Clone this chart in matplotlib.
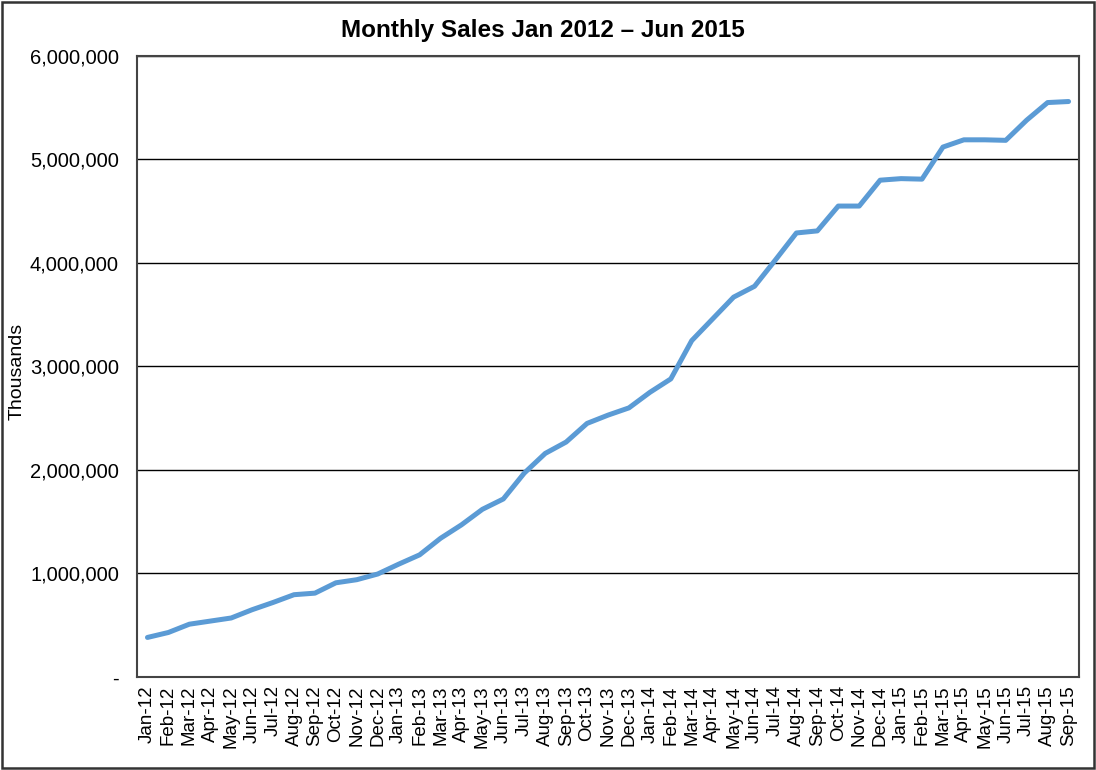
import matplotlib.pyplot as plt
from matplotlib.patches import Rectangle
from matplotlib.ticker import FuncFormatter

plt.rcParams['font.family'] = ['Liberation Sans', 'DejaVu Sans']

# month labels Jan-12 .. Sep-15
months = ['Jan', 'Feb', 'Mar', 'Apr', 'May', 'Jun',
          'Jul', 'Aug', 'Sep', 'Oct', 'Nov', 'Dec']
labels = [f'{m}-{y}' for y in ('12', '13', '14', '15') for m in months][:45]

# sales (thousands)
sales = [
    382000, 430000, 510000, 540000, 570000, 650000, 720000, 795000, 810000,
    910000, 940000, 995000, 1090000, 1180000, 1340000, 1470000, 1620000,
    1720000, 1970000, 2160000, 2270000, 2450000, 2530000, 2600000, 2750000,
    2880000, 3250000, 3460000, 3670000, 3775000, 4030000, 4290000, 4310000,
    4550000, 4550000, 4800000, 4815000, 4810000, 5120000, 5190000, 5190000,
    5185000, 5380000, 5550000, 5560000,
]
yticks = [0, 1000000, 2000000, 3000000, 4000000, 5000000, 6000000]

fig = plt.figure(figsize=(10.96, 7.7), dpi=100)
ax = fig.add_axes([0.125, 0.1208, 0.8595, 0.8065])

x = list(range(len(sales)))
ax.plot(x, sales, color='#5B9BD5', linewidth=3.6, solid_capstyle='round',
        solid_joinstyle='round', zorder=3)

ax.set_xlim(-0.5, len(sales) - 0.5)
ax.set_ylim(0, 6000000)
ax.set_xticks(x)
ax.set_xticklabels(labels, rotation=90, fontsize=13.5)
ax.set_yticks(yticks)
ax.yaxis.set_major_formatter(FuncFormatter(lambda v, p: '-' if v == 0 else f'{int(v):,}'))
ax.tick_params(axis='y', labelsize=14.5, length=0, pad=13)
ax.tick_params(axis='x', length=0, pad=6)
ax.grid(axis='y', color='black', linewidth=1.0)
ax.set_axisbelow(True)
for s in ax.spines.values():
    s.set_color('#444444')
    s.set_linewidth(1.5)

# axis title and chart title placed on the figure
fig.text(0.016, 0.517, 'Thousands', rotation=90, fontsize=14,
         ha='center', va='center')
fig.text(0.495, 0.96, 'Monthly Sales Jan 2012 \u2013 Jun 2015', fontsize=17.5,
         fontweight='bold', ha='center', va='center')

fig.patches.append(Rectangle((0.002, 0.003), 0.996, 0.994, transform=fig.transFigure,
                             fill=False, edgecolor='#333333', linewidth=1.8))

fig.savefig('out.png', dpi=100)
